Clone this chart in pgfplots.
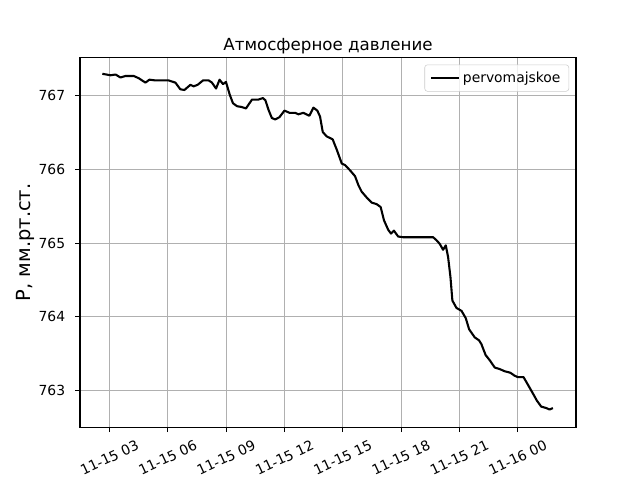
\documentclass[border=0pt]{standalone}
\usepackage{fontspec}
\setmainfont{DejaVu Sans}
\usepackage{pgfplots}
\pgfplotsset{compat=1.18}
\definecolor{gridgray}{HTML}{B0B0B0}
\definecolor{legedge}{HTML}{CCCCCC}
\begin{document}
\begin{tikzpicture}
\useasboundingbox (-57.6pt,-38.016pt) rectangle (403.2pt,307.584pt);
\begin{axis}[
  at={(0,0)}, anchor=south west,
  scale only axis,
  width=357.12pt, height=266.112pt,
  xmin=1.48, xmax=27.0,
  ymin=762.50, ymax=767.52,
  xtick={3,6,9,12,15,18,21,24},
  xticklabels={11-15 03,11-15 06,11-15 09,11-15 12,11-15 15,11-15 18,11-15 21,11-16 00},
  ytick={763,764,765,766,767},
  /pgf/number format/assume math mode=true,
  /pgf/number format/.cd, fixed, precision=0, set thousands separator={},
  /pgfplots/.cd,
  tick label style={font=\fontsize{10}{12}\selectfont},
  xticklabel style={yshift=-18.5pt, rotate=25, anchor=center, inner sep=0pt},
  yticklabel style={anchor=east, inner sep=0pt, xshift=-7pt},
  tick align=outside,
  major tick length=3.5pt,
  xtick pos=left, ytick pos=left,
  tick style={black, line width=0.8pt},
  axis line style={line width=0.8pt},
  grid=major,
  major grid style={gridgray, line width=0.8pt},
  title={Атмосферное давление},
  title style={font=\fontsize{12}{14}\selectfont, at={(axis description cs:0.5,1)}, anchor=south, inner sep=0pt, yshift=-3.4pt},
  ylabel={Р, мм.рт.ст.},
  ylabel style={font=\fontsize{14}{17}\selectfont, at={(axis description cs:-0.111,0.5)}, anchor=center, rotate=0},
  legend style={at={(1,1)}, anchor=north east, xshift=-5pt, yshift=-5pt, draw=legedge, rounded corners=2pt, fill=white, fill opacity=0.8, text opacity=1, font=\fontsize{10}{12}\selectfont, inner xsep=4pt, inner ysep=3pt},
  legend cell align=left,
  legend image code/.code={\draw[#1] (0pt,0pt) -- (20pt,0pt);},
]
\addplot[black, line width=1.5pt, line join=round] coordinates {
(2.63,767.30)(3.05,767.28)(3.31,767.29)(3.56,767.25)(3.82,767.27)(4.25,767.27)
(4.50,767.24)(4.85,767.18)(5.05,767.22)(5.36,767.21)(6.04,767.21)(6.39,767.18)
(6.64,767.09)(6.85,767.08)(7.16,767.15)(7.33,767.13)(7.53,767.15)(7.81,767.21)
(8.10,767.21)(8.27,767.18)(8.48,767.10)(8.66,767.22)(8.84,767.16)(8.99,767.19)
(9.18,767.02)(9.35,766.90)(9.56,766.86)(9.78,766.85)(10.02,766.83)(10.33,766.95)
(10.66,766.95)(10.89,766.97)(11.02,766.94)(11.18,766.81)(11.35,766.70)(11.52,766.68)
(11.74,766.71)(12.00,766.80)(12.26,766.77)(12.55,766.77)(12.72,766.75)(12.97,766.77)
(13.28,766.73)(13.49,766.84)(13.69,766.80)(13.83,766.72)(13.97,766.51)(14.17,766.45)
(14.48,766.41)(14.69,766.27)(14.95,766.08)(15.12,766.06)(15.37,765.99)(15.63,765.91)
(15.80,765.79)(15.97,765.70)(16.23,765.62)(16.49,765.55)(16.74,765.53)(16.95,765.49)
(17.12,765.31)(17.34,765.18)(17.48,765.13)(17.63,765.17)(17.85,765.09)(18.11,765.08)
(18.36,765.08)(18.96,765.08)(19.65,765.08)(19.82,765.04)(19.99,764.99)(20.16,764.91)
(20.30,764.97)(20.42,764.81)(20.54,764.54)(20.64,764.22)(20.85,764.12)(21.11,764.08)
(21.33,763.98)(21.50,763.83)(21.79,763.72)(22.01,763.68)(22.13,763.63)(22.35,763.48)
(22.56,763.41)(22.82,763.31)(23.07,763.29)(23.33,763.26)(23.62,763.24)(23.84,763.20)
(24.01,763.18)(24.30,763.18)(24.52,763.08)(24.78,762.96)(24.99,762.86)(25.21,762.78)
(25.47,762.76)(25.64,762.74)(25.81,762.76)
};
\addlegendentry{pervomajskoe}
\end{axis}
\end{tikzpicture}
\end{document}
